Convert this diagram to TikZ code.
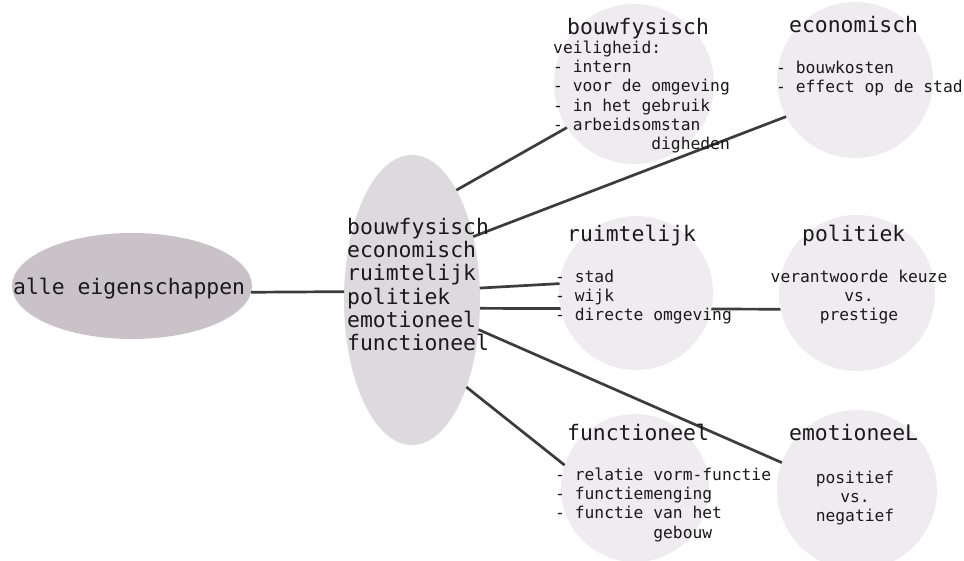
\documentclass[tikz,border=0pt]{standalone}
\usepackage{fontspec}
\newfontfamily\diagmono{DejaVu Sans Mono}
\usetikzlibrary{shapes.geometric}
\definecolor{rootgray}{HTML}{C9C3C9}
\definecolor{hubgray}{HTML}{DCDADC}
\definecolor{leafgray}{HTML}{EFECEF}
\definecolor{linkgray}{HTML}{3C3C3C}
\definecolor{inkgray}{HTML}{1A1A1A}
\pgfdeclarelayer{paper}
\pgfdeclarelayer{under}
\pgfsetlayers{paper,under,main}
\begin{document}
\begin{tikzpicture}[x=1pt,y=-1pt,
  oval/.style={ellipse,draw=none,inner sep=0pt,outer sep=0pt},
  leaf/.style={circle,fill=leafgray,draw=none,inner sep=0pt,outer sep=0pt,minimum size=#1},
  link/.style={draw=linkgray,line width=2.7pt},
  bigtext/.style={inner sep=0pt,text=inkgray,font=\diagmono\fontsize{21.4}{23.2}\selectfont},
  title/.style={bigtext,anchor=base west},
  bodyleft/.style={inner sep=0pt,text=inkgray,anchor=north west,align=left,
    font=\diagmono\fontsize{16.3}{19.3}\selectfont},
  bodymid/.style={inner sep=0pt,text=inkgray,anchor=north,align=center,
    font=\diagmono\fontsize{16.3}{19.3}\selectfont},
]
\begin{pgfonlayer}{paper}
\fill[white] (0,0) rectangle (964,561);
\end{pgfonlayer}
\useasboundingbox (0,0) rectangle (964,561);

% shapes
\node[oval,fill=rootgray,minimum width=240pt,minimum height=106pt] (all) at (132,286) {};
\node[oval,fill=hubgray,minimum width=136pt,minimum height=290pt] (mid) at (412,300) {};
\node[leaf=160pt] (bouw) at (634,84) {};
\node[leaf=156pt] (econ) at (855,80) {};
\node[leaf=154pt] (ruim) at (636,293) {};
\node[leaf=156pt] (pol) at (857,293) {};
\node[leaf=148pt] (func) at (635,488) {};
\node[leaf=160pt] (emo) at (857,490) {};

% connectors; the one to "politiek" runs beneath the "ruimtelijk" disc
\draw[link] (all.-3) -- (mid.173);
\draw[link] (mid.68) -- (bouw.213);
\draw[link] (mid.46) -- (econ.208);
\draw[link] (mid.10) -- (ruim.173);
\begin{pgfonlayer}{under}
\draw[link] (mid.-7.5) -- (pol.192);
\end{pgfonlayer}
\draw[link] (mid.-24) -- (emo.160);
\draw[link] (mid.-58) -- (func.162);

% texts
\node[title] (allT) at (13,295) {alle eigenschappen};
\node[bigtext,anchor=north west,align=left] (midT) at (347,218)
  {bouwfysisch\\economisch\\ruimtelijk\\politiek\\emotioneel\\functioneel};

\node[title] (bouwT) at (567,35) {bouwfysisch};
\node[bodyleft] (bouwB) at (553,40.6)
  {veiligheid:\\- intern\\- voor de omgeving\\- in het gebruik\\- arbeidsomstan\\\hphantom{0123456789}digheden};

\node[title] (econT) at (789,33) {economisch};
\node[bodyleft] (econB) at (776,60.6) {- bouwkosten\\- effect op de stad};

\node[title] (ruimT) at (567,242) {ruimtelijk};
\node[bodyleft] (ruimB) at (555,269.6) {- stad\\- wijk\\- directe omgeving};

\node[title] (polT) at (802,242) {politiek};
\node[bodymid] (polB) at (859,269.6) {verantwoorde keuze\\vs.\\prestige};

\node[title] (funcT) at (567,440) {functioneel};
\node[bodyleft] (funcB) at (555,467.6)
  {- relatie vorm-functie\\- functiemenging\\- functie van het\\\hphantom{0123456789}gebouw};

\node[title] (emoT) at (789,440) {emotioneeL};
\node[bodymid] (emoB) at (855,470.6) {positief\\vs.\\negatief};
\end{tikzpicture}
\end{document}
